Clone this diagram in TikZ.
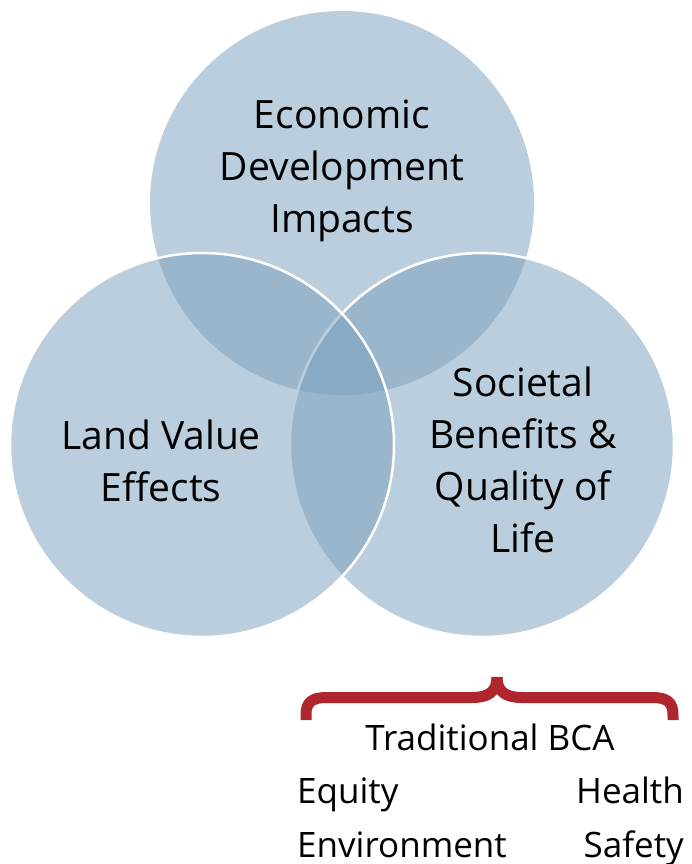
\documentclass[tikz,border=0pt]{standalone}
\usepackage{fontspec}
\setmainfont{Open Sans}
\definecolor{venn}{RGB}{119,158,189}
\definecolor{bracered}{RGB}{176,38,46}
\begin{document}
\begin{tikzpicture}[x=1pt,y=-1pt,
  vcircle/.style={circle,minimum size=384pt,inner sep=0pt,fill=venn,fill opacity=0.5,text opacity=1},
  vline/.style={draw=white,line width=2.5pt},
  vlabel/.style={align=center,font=\fontsize{39}{52}\selectfont,text=black},
  blabel/.style={font=\fontsize{35}{50}\selectfont,text=black,inner sep=0pt},
  bracestyle/.style={draw=bracered,line width=11pt,line cap=butt,line join=round}]
\useasboundingbox (0,0) rectangle (692,864);
\node[vcircle] (top) at (342,203) {};
\node[vcircle,vline] (right) at (482,445) {};
\node[vcircle,vline] (left) at (202,445) {};
\node[vlabel] (toplab) at (342,171) {Economic\\Development\\Impacts};
\node[vlabel] (leftlab) at (161,461) {Land Value\\Effects};
\node[vlabel] (rightlab) at (523,460) {Societal\\Benefits \&\\Quality of\\Life};
\coordinate (bl) at (306,720);
\coordinate (br) at (673,720);
\coordinate (bt) at (497,677);
\draw[bracestyle] (bl) -- (306,715) .. controls (306,702) and (312,697.5) .. (327,697.5) -- (472,697.5) .. controls (488,697.5) and (497,692) .. (bt);
\draw[bracestyle] (br) -- (673,715) .. controls (673,702) and (667,697.5) .. (652,697.5) -- (522,697.5) .. controls (506,697.5) and (497,692) .. (bt);
\node[blabel,anchor=base] (bca) at (490,750) {Traditional BCA};
\node[blabel,anchor=base west] (equity) at (297,803) {Equity};
\node[blabel,anchor=base east] (health) at (684,803) {Health};
\node[blabel,anchor=base west] (env) at (297,857) {Environment};
\node[blabel,anchor=base east] (safety) at (684,857) {Safety};
\end{tikzpicture}
\end{document}
